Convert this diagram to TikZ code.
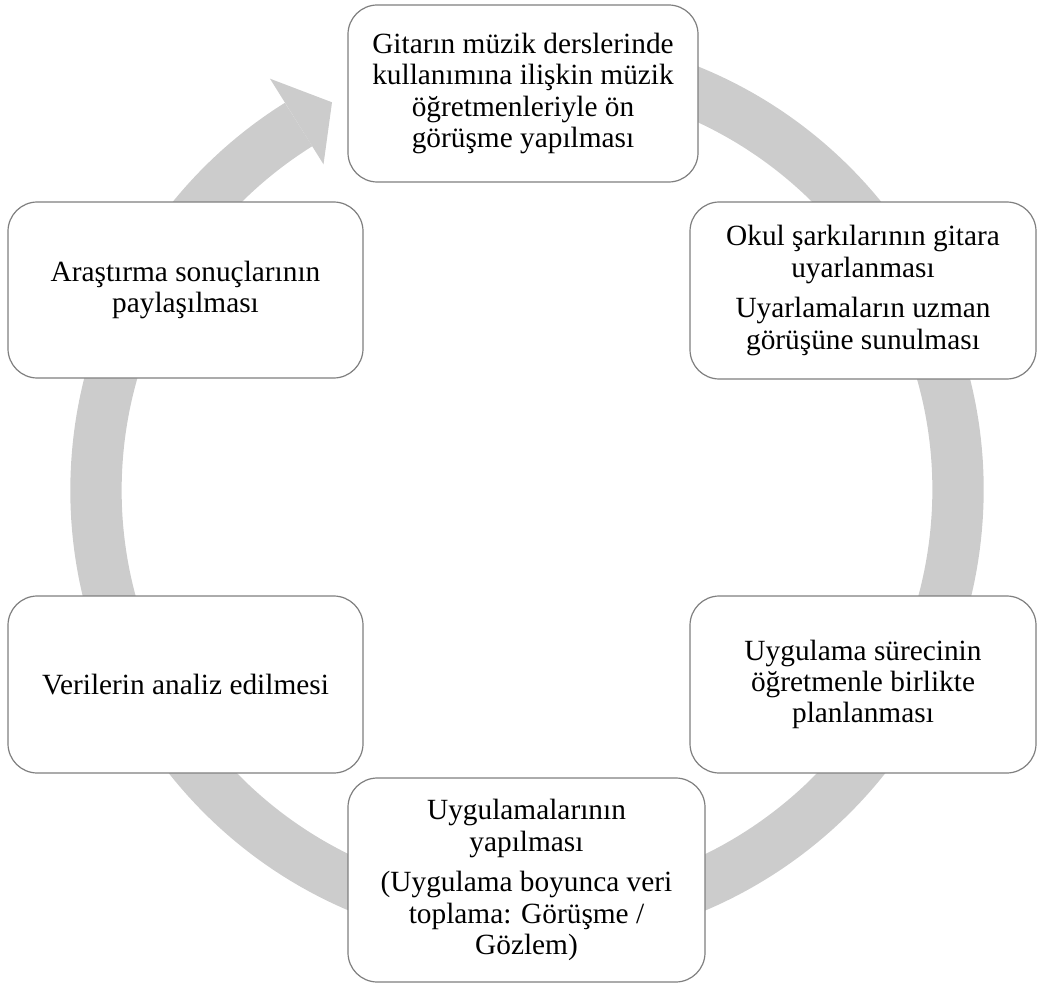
\documentclass[tikz,border=0pt]{standalone}
\usepackage{fontspec}
\setmainfont{Liberation Serif}
\usetikzlibrary{calc}
\definecolor{ringgray}{HTML}{CCCCCC}
\definecolor{boxgray}{HTML}{7F7F7F}
\tikzset{stage/.style={draw=boxgray, line width=0.9pt, fill=white, rounded corners=22pt,
                       align=center, inner sep=3pt, font=\fontsize{22}{23.5}\selectfont}}
\begin{document}
\begin{tikzpicture}[x=0.75pt, y=-0.75pt]
  \useasboundingbox (0,0) rectangle (1038,987);
  \coordinate (ctr) at (527,490);
  % cycle arrow
  \draw[ringgray, line width=38.5pt] ($(ctr)+(275:431)$) arc[start angle=275, end angle=598, radius=431];
  \fill[ringgray] ($(ctr)+(238:485)$) -- ($(ctr)+(243.3:434)$) -- ($(ctr)+(238:384)$) -- cycle;
  % stages
  \node[stage, minimum width=262.5pt, minimum height=132.75pt] (meet) at (523,93.5)
    {Gitarın müzik derslerinde\\kullanımına ilişkin müzik\\öğretmenleriyle ön\\görüşme yapılması};
  \node[stage, minimum width=259.5pt, minimum height=132.75pt] (adapt) at (863,290.5)
    {Okul şarkılarının gitara\\uyarlanması\\[7pt]Uyarlamaların uzman\\görüşüne sunulması};
  \node[stage, minimum width=259.5pt, minimum height=132.75pt] (plan) at (863,684.5)
    {Uygulama sürecinin\\öğretmenle birlikte\\planlanması};
  \node[stage, minimum width=267.75pt, minimum height=153pt] (apply) at (526.5,880)
    {Uygulamalarının\\yapılması\\[7pt](Uygulama boyunca veri\\toplama: Görüşme /\\Gözlem)};
  \node[stage, minimum width=266.25pt, minimum height=132.75pt] (analyse) at (185.5,684.5)
    {Verilerin analiz edilmesi};
  \node[stage, minimum width=266.25pt, minimum height=132pt] (share) at (185.5,290)
    {Araştırma sonuçlarının\\paylaşılması};
\end{tikzpicture}
\end{document}
